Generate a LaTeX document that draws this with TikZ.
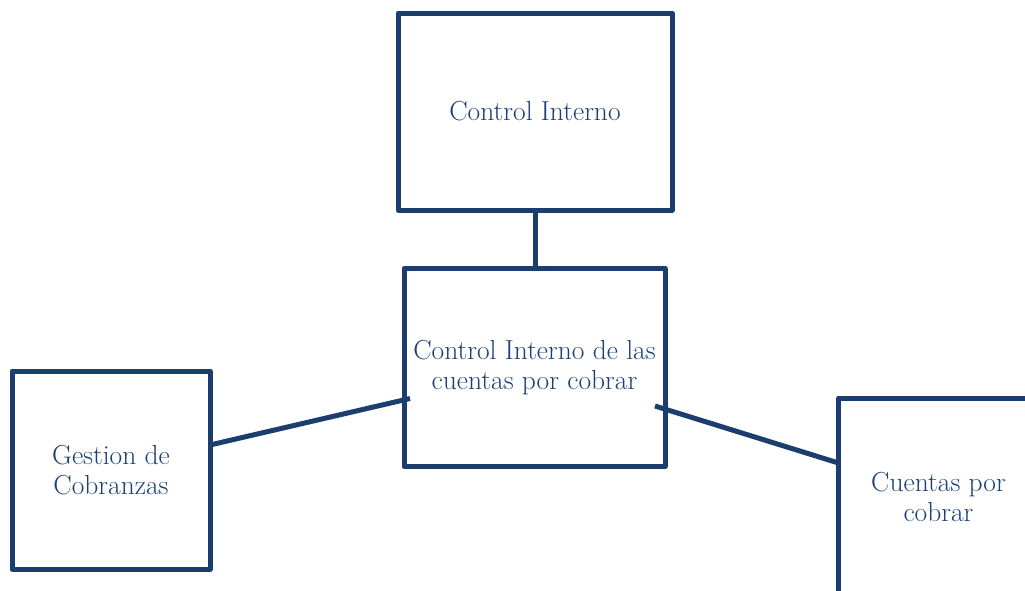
\documentclass[tikz,border=0pt]{standalone}
\definecolor{navy}{RGB}{27,62,110}
\definecolor{navytext}{RGB}{28,64,118}
\begin{document}
\begin{tikzpicture}[x=1pt,y=-1pt,
  box/.style={draw=navy,line width=5pt,line join=round,rectangle,align=center,
    text=navytext,font=\fontsize{27.5}{30}\selectfont,inner sep=0pt},
  link/.style={draw=navy,line width=5pt}]
\useasboundingbox (0,0) rectangle (1025,590);
\begin{scope}
\clip (0,0) rectangle (1025,590);
\node[box,minimum width=274pt,minimum height=197pt] (ci) at (535,111.5) {Control Interno};
\node[box,minimum width=261pt,minimum height=198pt] (cc) at (534.5,367.5) {Control Interno de las\\cuentas por cobrar};
\node[box,minimum width=198pt,minimum height=198pt] (gc) at (111,470) {Gestion de\\Cobranzas};
\node[box,minimum width=200pt,minimum height=198pt] (cp) at (938.5,497) {Cuentas por\\cobrar};
\coordinate (gcR) at (210,445);
\coordinate (ccL) at (410,398.5);
\coordinate (ccR) at (655,406);
\coordinate (cpL) at (838.5,463);
\draw[link] (ci.south) -- (ci.south |- cc.north);
\draw[link] (gcR) -- (ccL);
\draw[link] (ccR) -- (cpL);
\end{scope}
\end{tikzpicture}
\end{document}
